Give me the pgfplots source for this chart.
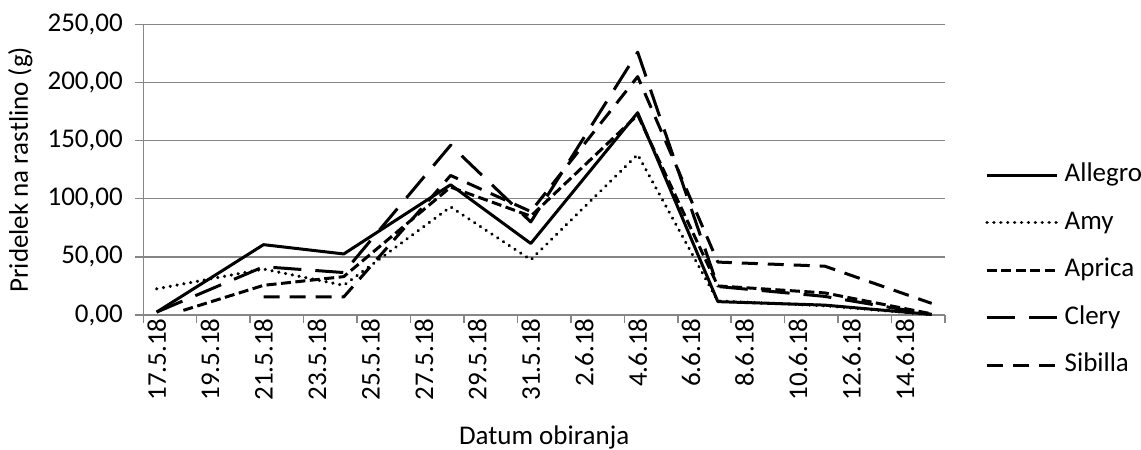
\documentclass[border=0pt]{standalone}
\usepackage{pgfplots}
\pgfplotsset{compat=1.18}
\usepackage{fontspec}
\setmainfont{Carlito}
\definecolor{axgray}{RGB}{134,134,134}

\begin{document}
\begin{tikzpicture}[font=\fontsize{27bp}{32bp}\selectfont]
\begin{axis}[
  name=ax,
  scale only axis, width=801.7bp, height=290.7bp,
  xmin=0, xmax=30, ymin=0, ymax=250,
  axis x line*=bottom, axis y line*=left,
  axis line style={axgray, line width=1.5bp, -},
  tick style={axgray, line width=1.5bp},
  tick align=outside, major tick length=8bp,
  xtick={0,2,...,30}, xticklabels={},
  ytick={0,50,...,250},
  ymajorgrids, major grid style={axgray, line width=1.5bp},
  /pgf/number format/assume math mode=true,
  yticklabel style={xshift=-9bp, /pgf/number format/.cd, fixed, fixed zerofill, precision=2, use comma},
  extra x ticks={0.5,2.5,...,28.5},
  extra x tick labels={17.5.18,19.5.18,21.5.18,23.5.18,25.5.18,27.5.18,29.5.18,31.5.18,2.6.18,4.6.18,6.6.18,8.6.18,10.6.18,12.6.18,14.6.18},
  extra x tick style={major tick length=0pt, tick label style={rotate=90, anchor=east}},
  xlabel={Datum obiranja},
  ylabel={Pridelek na rastlino (g)},
  xlabel style={at={(axis description cs:0.5,-0.422)}, anchor=center},
  ylabel style={at={(axis description cs:-0.1534,0.5)}, anchor=center},
  legend cell align=left,
  legend style={at={(axis description cs:1.05,0.528)}, anchor=north west,
    draw=none, fill=none, inner sep=0pt,
    nodes={inner sep=2bp, text height=18bp, text depth=5bp},
    row sep=20.5bp,
    /tikz/every odd column/.append style={column sep=4bp}},
  legend image code/.code={\draw[#1] (0bp,0bp) -- (70bp,0bp);},
  every axis plot/.append style={black, line width=3bp, line join=round},
]
% Allegro
\addplot[solid] coordinates {(0.5,2.5) (4.5,60.5) (7.5,52.5) (11.5,112) (14.5,61.5) (18.5,174) (21.5,11.5) (25.5,8.5) (29.5,0.5)};
% Amy
\addplot[dash pattern=on 0.1bp off 6.8bp, line cap=round, line width=3.4bp] coordinates {(0.5,22.5) (4.5,39.5) (7.5,25.5) (11.5,93) (14.5,47.5) (18.5,138) (21.5,12) (25.5,8) (29.5,0.3)};
% Aprica
\addplot[dash pattern=on 10bp off 4.5bp] coordinates {(1.5,4) (4.5,25.5) (7.5,33) (11.5,110) (14.5,85) (18.5,172) (21.5,25) (25.5,19) (29.5,1)};
% Clery
\addplot[dash pattern=on 28bp off 14bp] coordinates {(0.5,2.5) (4.5,41.5) (7.5,36.5) (11.5,146) (14.5,80) (18.5,226) (21.5,24.5) (25.5,16) (29.5,0.5)};
% Sibilla
\addplot[dash pattern=on 16bp off 10bp] coordinates {(4.5,15.5) (7.5,15.5) (11.5,120) (14.5,89) (18.5,205) (21.5,45.5) (25.5,42) (29.5,10)};
\legend{Allegro,Amy,Aprica,Clery,Sibilla}
\end{axis}
\pgfresetboundingbox
\path ([shift={(-143.3bp,-135bp)}]ax.south west) rectangle ([shift={(196bp,24.3bp)}]ax.north east);
\end{tikzpicture}
\end{document}
